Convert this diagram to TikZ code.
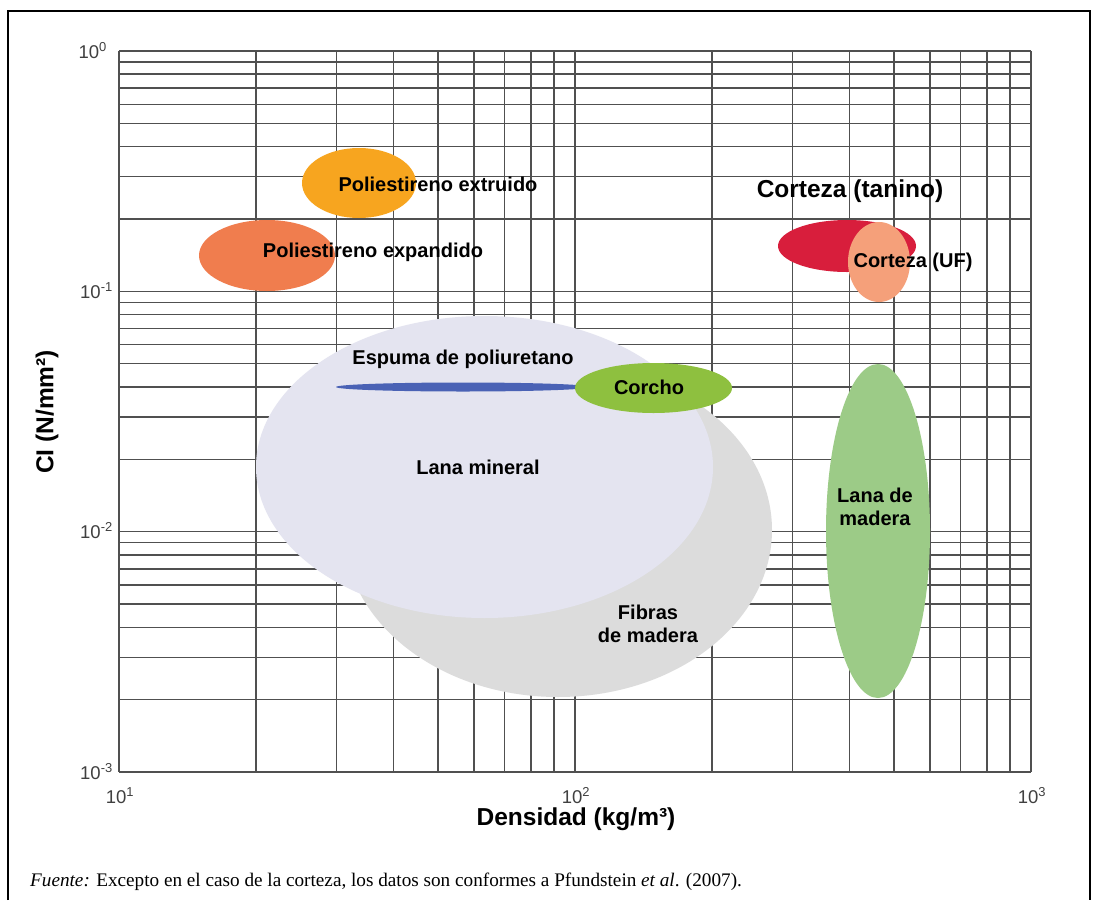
\documentclass[tikz,border=0pt]{standalone}
\usepackage{fontspec}
\setmainfont{Liberation Serif}
\setsansfont{Liberation Sans}
\definecolor{cExtr}{HTML}{F7A51F}
\definecolor{cExpa}{HTML}{F07D4E}
\definecolor{cLana}{HTML}{E4E4F0}
\definecolor{cFibr}{HTML}{DCDCDC}
\definecolor{cEspu}{HTML}{4A62B5}
\definecolor{cCorc}{HTML}{8EC03F}
\definecolor{cTani}{HTML}{D81E3C}
\definecolor{cUF}{HTML}{F5A07A}
\definecolor{cMade}{HTML}{9CCB87}
\definecolor{cGrid}{HTML}{505050}
\begin{document}
\begin{tikzpicture}[x=1pt,y=-1pt,
  gridline/.style={draw=cGrid, line width=1.6pt},
  lbl/.style={font=\sffamily\bfseries\fontsize{20}{23.5}\selectfont, text=black, align=center, inner sep=0pt},
  biglbl/.style={font=\sffamily\bfseries\fontsize{24.5}{28}\selectfont, text=black, inner sep=0pt},
  ticklbl/.style={font=\sffamily\fontsize{18.5}{20}\selectfont, text=black!75, inner sep=0pt},
  caption/.style={font=\rmfamily\fontsize{19.2}{22}\selectfont, text=black, inner sep=0pt}]
\useasboundingbox (0,0) rectangle (1098,900);
\fill[white] (0,0) rectangle (1098,900);
% frame
\draw[line width=1.2pt] (8,900) -- (8,11) -- (1090,11) -- (1090,900);
% grid: vertical
\foreach \d in {0,1,2}{
  \foreach \m in {1,...,9}{
    \pgfmathsetmacro\xx{119+456*(\d+log10(\m))}
    \draw[gridline] (\xx,51) -- (\xx,772);
  }
}
\draw[gridline] (1031,51) -- (1031,772);
% grid: horizontal
\draw[gridline] (119,51) -- (1031,51);
\foreach \d in {0,1,2}{
  \foreach \m in {1,...,9}{
    \pgfmathsetmacro\yy{51+240.33*(\d+1-log10(\m))}
    \draw[gridline] (119,\yy) -- (1031,\yy);
  }
}
% ellipses
\fill[cExtr] (359,183) ellipse [x radius=57pt, y radius=35pt];
\fill[cExpa] (267,255.5) ellipse [x radius=68pt, y radius=35.5pt];
\fill[cFibr] (558,530) ellipse [x radius=214pt, y radius=167pt];
\fill[cLana] (484.5,467) ellipse [x radius=228.5pt, y radius=151pt];
\fill[cEspu] (463,387) ellipse [x radius=127pt, y radius=4.5pt];
\fill[cCorc] (653.5,388) ellipse [x radius=78.5pt, y radius=25pt];
\fill[cTani] (847,246) ellipse [x radius=69pt, y radius=26pt];
\fill[cUF] (879,262) ellipse [x radius=31pt, y radius=40pt];
\fill[cMade] (878,531) ellipse [x radius=52pt, y radius=167pt];
% labels
\node[lbl] (extr) at (438,184) {Poliestireno extruido};
\node[lbl] (expa) at (373,252) {Poliestireno expandido};
\node[biglbl] (tani) at (850,191) {Corteza (tanino)};
\node[lbl] (uf) at (913,262) {Corteza (UF)};
\node[lbl] (espu) at (463,359) {Espuma de poliuretano};
\node[lbl] (corc) at (649,387) {Corcho};
\node[lbl] (lana) at (478,467) {Lana mineral};
\node[lbl] (fibr) at (648,624) {Fibras\\de madera};
\node[lbl] (made) at (875,507) {Lana de\\madera};
% axis labels
\node[biglbl, rotate=90] (ylab) at (47,412) {CI (N/mm²)};
\node[biglbl] (xlab) at (576,819) {Densidad (kg/m³)};
% tick labels
\node[ticklbl, anchor=base east] (y0) at (107,58) {10\textsuperscript{0}};
\node[ticklbl, anchor=base east] (y1) at (113,298) {10\textsuperscript{-1}};
\node[ticklbl, anchor=base east] (y2) at (113,538) {10\textsuperscript{-2}};
\node[ticklbl, anchor=base east] (y3) at (113,779) {10\textsuperscript{-3}};
\node[ticklbl, anchor=base] (x1) at (120,803) {10\textsuperscript{1}};
\node[ticklbl, anchor=base] (x2) at (576,803) {10\textsuperscript{2}};
\node[ticklbl, anchor=base] (x3) at (1032,803) {10\textsuperscript{3}};
% caption
\node[caption, anchor=base west] (cap) at (30,886) {\textit{Fuente:} Excepto en el caso de la corteza, los datos son conformes a Pfundstein \textit{et al}. (2007).};
\end{tikzpicture}
\end{document}
